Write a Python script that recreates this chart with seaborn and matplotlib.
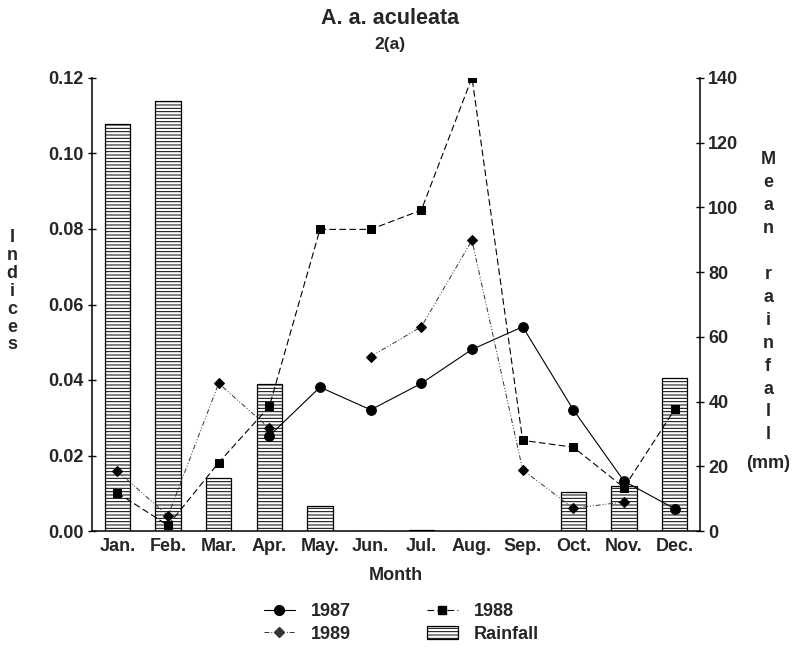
import numpy as np
import pandas as pd
import matplotlib
matplotlib.use("Agg")
import matplotlib.pyplot as plt
import seaborn as sns
from matplotlib.lines import Line2D
from matplotlib.patches import Patch

sns.set_theme(style="white")
plt.rcParams['font.family'] = ['Liberation Sans', 'DejaVu Sans']
plt.rcParams['font.weight'] = 'bold'
plt.rcParams['hatch.linewidth'] = 0.7
plt.rcParams['hatch.color'] = 'black'

months = ["Jan.", "Feb.", "Mar.", "Apr.", "May.", "Jun.", "Jul.", "Aug.", "Sep.", "Oct.", "Nov.", "Dec."]
rainfall = [125.8, 132.8, 16.5, 45.3, 7.6, 0.0, 0.3, 0.0, 0.0, 12.0, 13.8, 47.2]
idx_1987 = [np.nan, np.nan, np.nan, 0.0252, 0.0381, 0.0321, 0.0391, 0.0481, 0.0541, 0.0321, 0.0132, 0.0059]
idx_1988 = [0.0101, 0.0015, 0.0181, 0.0330, 0.0799, 0.0799, 0.0850, 0.1201, 0.0240, 0.0222, 0.0115, 0.0322]
idx_1989 = [0.0159, 0.0040, 0.0391, 0.0272, np.nan, 0.0462, 0.0541, 0.0770, 0.0162, 0.0060, 0.0077, np.nan]

FS = 13

fig = plt.figure(figsize=(7.95, 6.51), dpi=100)
ax = fig.add_axes([92/795, 1-531/651, 608/795, 453/651])
ax2 = ax.twinx()
ax.set_zorder(ax2.get_zorder() + 1)
ax.patch.set_visible(False)

df_rain = pd.DataFrame({"Month": months, "Rainfall": rainfall})
sns.barplot(data=df_rain, x="Month", y="Rainfall", ax=ax2, color="white",
            edgecolor="black", linewidth=0.9, width=0.5, saturation=1,
            errorbar=None, hatch="-----")

styles = {
    "1987": dict(vals=idx_1987, marker="o", ms=7, ls="-", lw=0.8, color="black"),
    "1988": dict(vals=idx_1988, marker="s", ms=6, ls=(0, (6, 3)), lw=0.8, color="black"),
    "1989": dict(vals=idx_1989, marker="D", ms=5, ls=(0, (5, 2, 1, 2, 1, 2)), lw=0.7, color="#333333"),
}
xpos = np.arange(len(months))
for name, st in styles.items():
    vals = np.array(st["vals"], dtype=float)
    ok = ~np.isnan(vals)
    seg_id = np.cumsum(~ok)
    for s in np.unique(seg_id[ok]):
        m = ok & (seg_id == s)
        sns.lineplot(x=xpos[m], y=vals[m], ax=ax, color=st["color"], marker=st["marker"],
                     markersize=st["ms"], linestyle=st["ls"], linewidth=st["lw"],
                     markeredgecolor="black", markerfacecolor="black", sort=False,
                     legend=False)

ax.set_xlim(-0.5, 11.5)
ax.set_ylim(0, 0.12)
ax2.set_ylim(0, 140)
ax.set_yticks(np.arange(0, 0.121, 0.02))
ax.set_yticklabels([f"{v:.2f}" for v in np.arange(0, 0.121, 0.02)])
ax2.set_yticks(np.arange(0, 141, 20))
ax.set_xticks(xpos)
ax.set_xticklabels(months)
ax.set_xticks(np.arange(0.5, 11, 1), minor=True)
ax.tick_params(axis='x', which='major', length=0, labelsize=FS, pad=5)
ax.tick_params(axis='x', which='minor', length=6, width=1, direction='inout', color='black')
ax.tick_params(axis='y', length=6, width=1, direction='inout', labelsize=FS, color='black', left=True, pad=3)
ax2.tick_params(axis='y', length=6, width=1, direction='inout', labelsize=FS, color='black', right=True, pad=3)
ax2.set_xlabel("")
ax2.set_ylabel("")
ax.set_xlabel("")
ax.set_ylabel("")
for a in (ax, ax2):
    a.spines['top'].set_visible(False)
    for sp in ('left', 'right', 'bottom'):
        a.spines[sp].set_color('black')
        a.spines[sp].set_linewidth(1.1)
ax.spines['right'].set_visible(False)
ax2.spines['left'].set_visible(False)
ax2.spines['bottom'].set_visible(False)
for lab in ax.get_xticklabels() + ax.get_yticklabels() + ax2.get_yticklabels():
    lab.set_fontweight('bold')

fig.text(390/795, 1-18/651, "A. a. aculeata", ha='center', va='center', fontsize=15.5, fontweight='bold')
fig.text(390/795, 1-45/651, "2(a)", ha='center', va='center', fontsize=12.5, fontweight='bold')
fig.text(396/795, 1-576/651, "Month", ha='center', va='center', fontsize=FS, fontweight='bold')

for i, ch in enumerate("Indices"):
    fig.text(12/795, 1-(238+i*17.8)/651, ch, ha='center', va='center', fontsize=FS, fontweight='bold')
right_letters = ["M", "e", "a", "n", "", "r", "a", "i", "n", "f", "a", "l", "l"]
for i, ch in enumerate(right_letters):
    if ch:
        fig.text(768/795, 1-(160+i*22.9)/651, ch, ha='center', va='center', fontsize=FS, fontweight='bold')
fig.text(768/795, 1-463/651, "(mm)", ha='center', va='center', fontsize=FS, fontweight='bold')

handles = [
    Line2D([], [], color="black", marker="o", ms=7, ls="-", lw=0.8),
    Line2D([], [], color="#333333", marker="D", ms=5, ls=(0, (5, 2, 1, 2, 1, 2)), lw=0.7),
    Line2D([], [], color="black", marker="s", ms=6, ls=(0, (6, 3)), lw=0.8),
    Patch(facecolor="white", edgecolor="black", hatch="-----", linewidth=0.9),
]
labels = ["1987", "1989", "1988", "Rainfall"]
fig.legend(handles, labels, ncol=2, loc='center', bbox_to_anchor=(0.505, 1-623/651),
           frameon=False, handlelength=1.7, handletextpad=0.9,
           columnspacing=4.2, labelspacing=0.3, prop={'weight': 'bold', 'size': FS})

fig.savefig("out.png", dpi=100)
